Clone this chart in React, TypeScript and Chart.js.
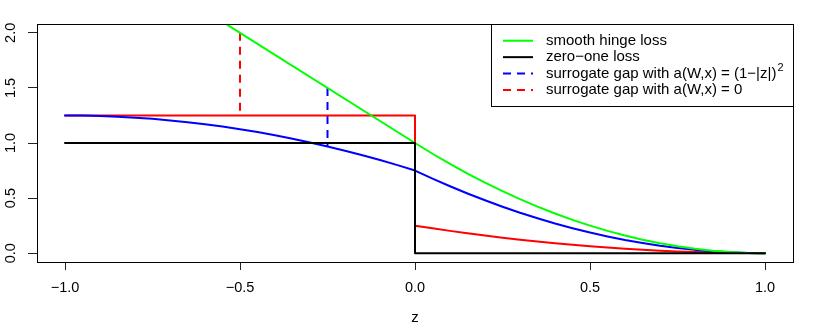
import React, { useEffect, useRef } from 'react';
import { Chart, registerables } from 'chart.js';

Chart.register(...registerables);

// ---- data ----
const zNeg = [-1, -0.95, -0.9, -0.85, -0.8, -0.75, -0.7, -0.65, -0.6, -0.55, -0.5, -0.45, -0.4, -0.35, -0.3, -0.25, -0.2, -0.15, -0.1, -0.05, 0];
const zPos = [0, 0.05, 0.1, 0.15, 0.2, 0.25, 0.3, 0.35, 0.4, 0.45, 0.5, 0.55, 0.6, 0.65, 0.7, 0.75, 0.8, 0.85, 0.9, 0.95, 1];

const hingeNegZ = [-1, -0.5, 0];
const hingeNegY = [3, 2, 1];
const hingePosY = [1, 0.9025, 0.81, 0.7225, 0.64, 0.5625, 0.49, 0.4225, 0.36, 0.3025, 0.25, 0.2025, 0.16, 0.1225, 0.09, 0.0625, 0.04, 0.0225, 0.01, 0.0025, 0];

const zeroOneZ = [-1, 0, 0, 1];
const zeroOneY = [1, 1, 0, 0];

const blueNegY = [1.25, 1.249, 1.245, 1.239, 1.23, 1.219, 1.205, 1.189, 1.17, 1.149, 1.125, 1.099, 1.07, 1.039, 1.005, 0.969, 0.93, 0.889, 0.845, 0.799, 0.75];
const bluePosY = [0.75, 0.677, 0.6075, 0.542, 0.48, 0.422, 0.3675, 0.317, 0.27, 0.227, 0.1875, 0.152, 0.12, 0.092, 0.0675, 0.047, 0.03, 0.017, 0.0075, 0.002, 0];

const redNegZ = [-1, 0];
const redNegY = [1.25, 1.25];
const redPosY = [0.25, 0.2256, 0.2025, 0.1806, 0.16, 0.1406, 0.1225, 0.1056, 0.09, 0.0756, 0.0625, 0.0506, 0.04, 0.0306, 0.0225, 0.0156, 0.01, 0.0056, 0.0025, 0.0006, 0];

const gapBlueZ = [-0.25, -0.25];
const gapBlueY = [1.5, 0.969];
const gapRedZ = [-0.5, -0.5];
const gapRedY = [2.0, 1.25];

const xTickValues = [-1, -0.5, 0, 0.5, 1];
const xTickLabels = ['\u22121.0', '\u22120.5', '0.0', '0.5', '1.0'];
const yTickValues = [0, 0.5, 1, 1.5, 2];
const yTickLabels = ['0.0', '0.5', '1.0', '1.5', '2.0'];

const legendLabels = ['smooth hinge loss', 'zero\u2212one loss', 'surrogate gap with a(W,x) = (1\u2212|z|)', 'surrogate gap with a(W,x) = 0'];
const legendSup = ['', '', '2', ''];
const legendColors = ['#00ff00', '#000000', '#0000ff', '#ff0000'];
const legendDashed = [false, false, true, true];

const FONT = '"Liberation Sans", Arial, Helvetica, sans-serif';

const pts = (xs: number[], ys: number[]) => xs.map((x, i) => ({ x, y: ys[i] }));

const boxAndLegend = {
  id: 'boxAndLegend',
  afterDatasetsDraw(chart: any) {
    const { ctx, chartArea: a } = chart;
    ctx.save();
    ctx.strokeStyle = '#000';
    ctx.lineWidth = 1;
    const L = Math.round(a.left), T = Math.round(a.top), R = Math.round(a.right), B = Math.round(a.bottom);
    ctx.strokeRect(L + 0.5, T + 0.5, R - L, B - T);

    // legend
    const w = 302, h = 82;
    const lx = R - w, ly = T;
    ctx.fillStyle = '#fff';
    ctx.fillRect(lx + 1, ly + 1, w - 1, h - 1);
    ctx.strokeRect(lx + 0.5, ly + 0.5, w, h);
    for (let i = 0; i < legendLabels.length; i++) {
      const cy = ly + 16.7 + i * 16.45;
      ctx.beginPath();
      ctx.strokeStyle = legendColors[i];
      ctx.lineWidth = 2;
      ctx.setLineDash(legendDashed[i] ? [8, 6] : []);
      ctx.moveTo(lx + 12, cy);
      ctx.lineTo(lx + 42, cy);
      ctx.stroke();
      ctx.setLineDash([]);
      ctx.fillStyle = '#000';
      ctx.font = `15px ${FONT}`;
      ctx.textBaseline = 'middle';
      ctx.textAlign = 'left';
      ctx.fillText(legendLabels[i], lx + 55, cy);
      if (legendSup[i]) {
        const tw = ctx.measureText(legendLabels[i]).width;
        ctx.font = `11px ${FONT}`;
        ctx.fillText(legendSup[i], lx + 55 + tw + 1, cy - 6);
      }
    }
    ctx.restore();
  },
};

export default function App() {
  const ref = useRef<HTMLCanvasElement>(null);
  useEffect(() => {
    if (!ref.current) return;
    const line = (data: any[], color: string, dashed = false) => ({
      data,
      borderColor: color,
      backgroundColor: color,
      borderWidth: 2,
      pointRadius: 0,
      pointHoverRadius: 0,
      tension: 0,
      fill: false,
      borderDash: dashed ? [8, 6] : [],
      borderJoinStyle: 'round',
      borderCapStyle: dashed ? 'butt' : 'round',
    });
    const chart = new Chart(ref.current, {
      type: 'line',
      data: {
        datasets: [
          line(pts(zeroOneZ, zeroOneY), '#000000'),
          line([...pts(hingeNegZ, hingeNegY), ...pts(zPos.slice(1), hingePosY.slice(1))], '#00ff00'),
          line([...pts(zNeg, blueNegY), ...pts(zPos.slice(1), bluePosY.slice(1))], '#0000ff'),
          line([...pts(redNegZ, redNegY), ...pts(zPos, redPosY)], '#ff0000'),
          line(pts(gapRedZ, gapRedY), '#ff0000', true),
          line(pts(gapBlueZ, gapBlueY), '#0000ff', true),
        ] as any,
      },
      options: {
        animation: false,
        responsive: false,
        devicePixelRatio: 1,
        events: [],
        layout: { padding: { top: 24, right: 37, left: 0, bottom: 0 } },
        plugins: { legend: { display: false }, tooltip: { enabled: false } },
        scales: {
          x: {
            type: 'linear',
            min: -1.08,
            max: 1.08,
            afterBuildTicks: (s: any) => { s.ticks = xTickValues.map((v) => ({ value: v })); },
            afterFit: (s: any) => { s.height = 65; },
            grid: { display: true, drawOnChartArea: false, drawTicks: true, tickLength: 8, color: '#222', lineWidth: 1 },
            border: { display: false },
            ticks: {
              autoSkip: false,
              maxRotation: 0,
              minRotation: 0,
              padding: 9,
              color: '#000',
              font: { family: FONT, size: 14.5 },
              callback: (_v: any, i: number) => xTickLabels[i],
            },
            title: { display: true, text: 'z', color: '#000', font: { family: FONT, size: 15 }, padding: { top: 0, bottom: 0 } },
          },
          y: {
            type: 'linear',
            min: -0.08,
            max: 2.08,
            afterBuildTicks: (s: any) => { s.ticks = yTickValues.map((v) => ({ value: v })); },
            afterFit: (s: any) => { s.width = 37; },
            grid: { display: true, drawOnChartArea: false, drawTicks: true, tickLength: 9, color: '#222', lineWidth: 1 },
            border: { display: false },
            ticks: {
              autoSkip: false,
              minRotation: 90,
              maxRotation: 90,
              crossAlign: 'center',
              padding: 7,
              color: '#000',
              font: { family: FONT, size: 14.5 },
              callback: (_v: any, i: number) => yTickLabels[i],
            },
          },
        },
      } as any,
      plugins: [boxAndLegend],
    });
    return () => chart.destroy();
  }, []);
  return (
    <div style={{ position: 'fixed', left: 0, top: 0, width: 830, height: 327, background: '#fff' }}>
      <canvas ref={ref} width={830} height={327} style={{ display: 'block', width: 830, height: 327 }} />
    </div>
  );
}
